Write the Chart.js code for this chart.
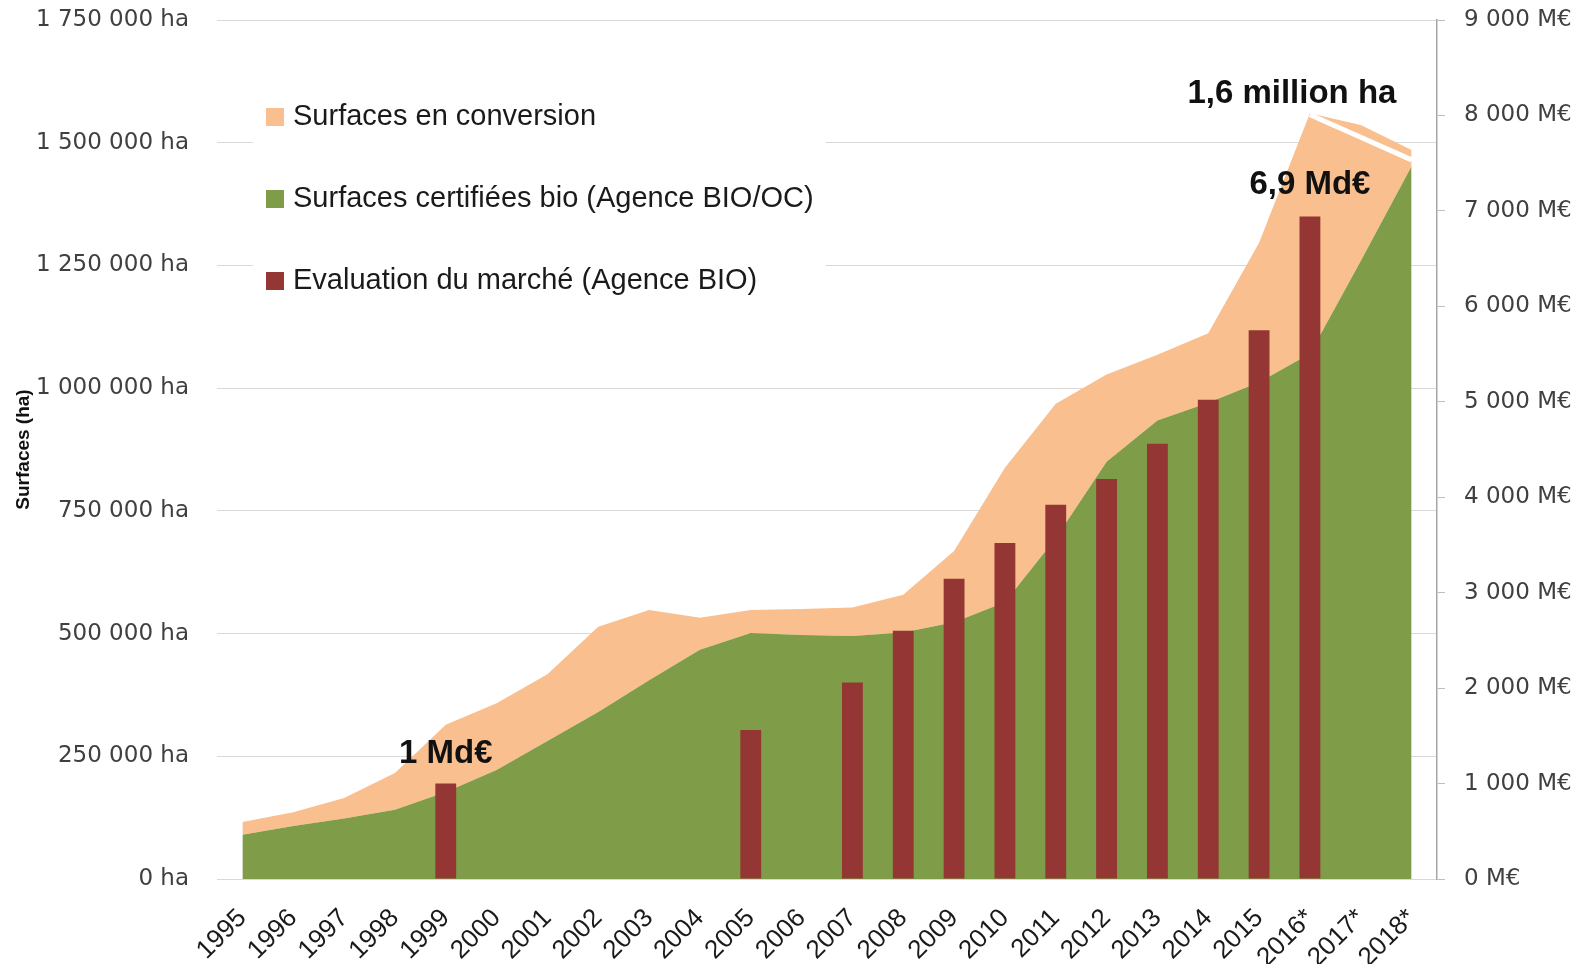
<!DOCTYPE html>
<html>
<head>
<meta charset="UTF-8">
<title>Surfaces bio et marché</title>
<script src="https://cdn.jsdelivr.net/npm/chart.js"></script>
<style>
  html, body { margin: 0; padding: 0; background: #fff; }
  canvas { display: block; }
</style>
</head>
<body>
<canvas id="bioChart" width="1586" height="964"></canvas>
<script>
var years = ['1995', '1996', '1997', '1998', '1999', '2000', '2001', '2002', '2003', '2004', '2005', '2006',
             '2007', '2008', '2009', '2010', '2011', '2012', '2013', '2014', '2015', '2016*', '2017*', '2018*'];
var certifiedHa = [90000, 108000, 123000, 141000, 177000, 222000, 281000, 340000, 405000, 467000, 501000, 497000,
                   495000, 502000, 523000, 564000, 694000, 850000, 934000, 970000, 1012000, 1070000, 1259000, 1452000];
var conversionHa = [26000, 28000, 42000, 75000, 137000, 136000, 136000, 174000, 143000, 65000, 47000, 53000,
                    58000, 77000, 145000, 274000, 274000, 178000, 134000, 142000, 284000, 490000, 277000, 33000];
var marketMEur = [null, null, null, null, 1000, null, null, null, null, null, 1560, null,
                  2060, 2600, 3145, 3520, 3920, 4190, 4560, 5020, 5750, 6940, null, null];
// white break line over the end of the area
var breakLineHa = [null, null, null, null, null, null, null, null, null, null, null, null,
                   null, null, null, null, null, null, null, null, null, 1557000, 1511000, 1465000];

var green = '#7F9C48', orange = '#F9BF8F', red = '#943634';

function spaced(v) {
    return String(v).replace(/\B(?=(\d{3})+(?!\d))/g, ' ');
}

var legendItems = [
    {label: 'Surfaces en conversion', color: orange},
    {label: 'Surfaces certifiées bio (Agence BIO/OC)', color: green},
    {label: 'Evaluation du marché (Agence BIO)', color: red}
];

var insideLegend = {
    id: 'insideLegend',
    beforeDatasetsDraw: function(chart) {
        var ctx = chart.ctx;
        ctx.save();
        ctx.fillStyle = '#fff';
        ctx.fillRect(253, 72, 573, 250);
        ctx.font = '29px "Liberation Sans"';
        ctx.textBaseline = 'middle';
        ctx.textAlign = 'left';
        legendItems.forEach(function(item, i) {
            var y = 117 + i * 82;
            ctx.fillStyle = item.color;
            ctx.fillRect(266, y - 9, 18, 18);
            ctx.fillStyle = '#1a1a1a';
            ctx.fillText(item.label, 293, y);
        });
        ctx.restore();
    }
};

var labelsPlugin = {
    id: 'bigLabels',
    afterDatasetsDraw: function(chart) {
        var ctx = chart.ctx, x = chart.scales.x, y = chart.scales.y, y1 = chart.scales.y1;
        ctx.save();
        ctx.font = 'bold 33px "Liberation Sans"';
        ctx.fillStyle = '#111';
        ctx.textAlign = 'center';
        ctx.textBaseline = 'middle';
        ctx.fillText('1 Md€', x.getPixelForValue(4), y1.getPixelForValue(marketMEur[4]) - 30);
        ctx.fillText('6,9 Md€', x.getPixelForValue(21), y1.getPixelForValue(marketMEur[21]) - 32);
        ctx.fillText('1,6 million ha', x.getPixelForValue(21) - 18,
                     y.getPixelForValue(certifiedHa[21] + conversionHa[21]) - 19);
        ctx.restore();
    }
};

function fitSide(width) {
    return function(s) {
        s.width = width;
        s.paddingTop = 0;
        s.paddingBottom = 0;
    };
}

function drawChart() {
    var ctx = document.getElementById('bioChart').getContext('2d');
    new Chart(ctx, {
        type: 'bar',
        data: {
            labels: years,
            datasets: [{
                type: 'line',
                label: 'Surfaces certifiées bio (Agence BIO/OC)',
                data: certifiedHa,
                yAxisID: 'y',
                stack: 'surf',
                backgroundColor: green,
                borderWidth: 0,
                pointRadius: 0,
                fill: 'origin',
                order: 2
            }, {
                type: 'line',
                label: 'Surfaces en conversion',
                data: conversionHa,
                yAxisID: 'y',
                stack: 'surf',
                backgroundColor: orange,
                borderWidth: 0,
                pointRadius: 0,
                fill: '-1',
                order: 3
            }, {
                label: 'Evaluation du marché (Agence BIO)',
                data: marketMEur,
                yAxisID: 'y1',
                backgroundColor: red,
                categoryPercentage: 1,
                barPercentage: 0.41,
                order: 1
            }, {
                type: 'line',
                label: 'break',
                data: breakLineHa,
                yAxisID: 'y',
                stack: 'brk',
                borderColor: '#fff',
                borderWidth: 5,
                pointRadius: 0,
                fill: false,
                order: 0
            }]
        },
        options: {
            responsive: false,
            animation: false,
            layout: {padding: {top: 20, left: 0, right: 0, bottom: 0}},
            plugins: {
                legend: {display: false},
                tooltip: {enabled: false}
            },
            scales: {
                x: {
                    grid: {display: false},
                    border: {display: false},
                    ticks: {
                        autoSkip: false,
                        minRotation: 45,
                        maxRotation: 45,
                        padding: 16,
                        color: '#1a1a1a',
                        font: {family: '"Liberation Sans Narrow", "Liberation Sans"', size: 26}
                    },
                    afterFit: function(s) { s.height = 85; }
                },
                y: {
                    position: 'left',
                    stacked: true,
                    min: 0,
                    max: 1750000,
                    grid: {color: '#D9D9D9', drawTicks: false},
                    border: {display: false},
                    ticks: {
                        stepSize: 250000,
                        padding: 28,
                        color: '#404040',
                        font: {family: '"DejaVu Sans"', size: 23},
                        callback: function(v) { return spaced(v) + ' ha'; }
                    },
                    title: {
                        display: true,
                        text: 'Surfaces (ha)',
                        color: '#111',
                        padding: {top: 12, bottom: 0},
                        font: {family: '"Liberation Sans Narrow", "Liberation Sans"', size: 19, weight: 'bold'}
                    },
                    afterFit: fitSide(217)
                },
                y1: {
                    position: 'right',
                    min: 0,
                    max: 9000,
                    grid: {drawOnChartArea: false, color: '#BFBFBF', tickLength: 8},
                    border: {display: true, color: '#A6A6A6', width: 1.5},
                    ticks: {
                        stepSize: 1000,
                        padding: 19,
                        color: '#404040',
                        font: {family: '"DejaVu Sans"', size: 23},
                        callback: function(v) { return spaced(v) + ' M€'; }
                    },
                    afterFit: fitSide(149)
                }
            }
        },
        plugins: [insideLegend, labelsPlugin]
    });
}
drawChart();
</script>
</body>
</html>
